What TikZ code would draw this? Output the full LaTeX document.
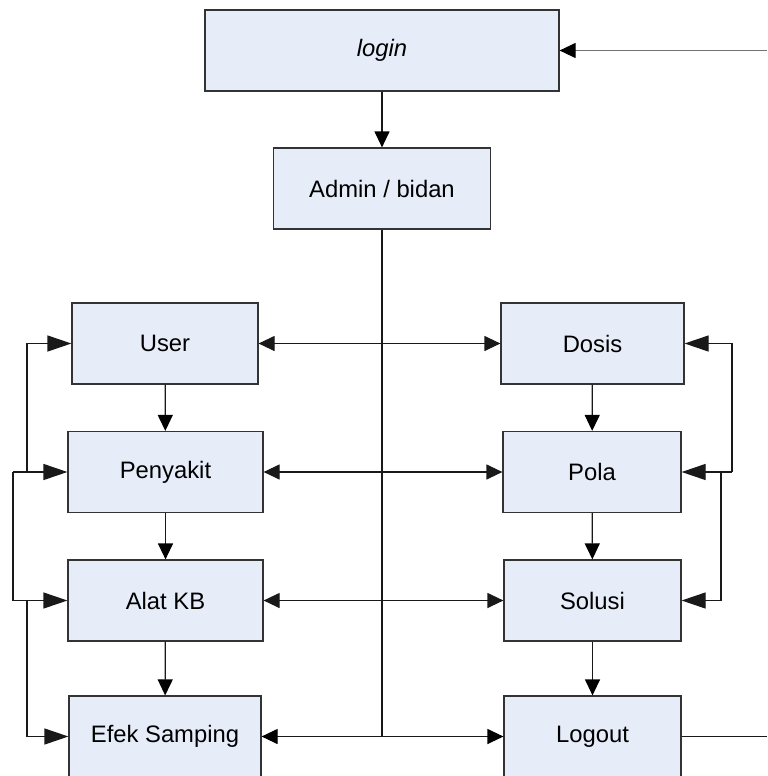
\documentclass[tikz,border=0pt]{standalone}
\usepackage{fontspec}
\setmainfont{Liberation Sans}
\usetikzlibrary{arrows.meta}
\definecolor{boxfill}{RGB}{230,237,248}

\begin{document}
\begin{tikzpicture}[x=0.5pt, y=-0.5pt,
        box/.style={draw=black!80, fill=boxfill, line width=0.6pt, minimum height=40.5pt,
            inner sep=0pt, font=\fontsize{11.9}{14}\selectfont},
        link/.style={draw=black!90, line width=0.6pt},
        arr/.style={link, -{Triangle[length=8pt, width=7.5pt, black]}},
        barr/.style={link, {Triangle[length=8pt, width=7.5pt]}-{Triangle[length=8pt, width=7.5pt]}},
        fbarr/.style={link, -{Triangle[length=12pt, width=8pt]}}]
        \useasboundingbox (0,0) rectangle (767,776);

        \node[box, minimum width=177pt] (login) at (382,50.5) {\textit{login}};
        \node[box, minimum width=108.5pt] (admin) at (382,188.5) {Admin / bidan};

        \node[box, minimum width=93pt] (user) at (165,343.5) {User};
        \node[box, minimum width=97.5pt] (penyakit) at (165.5,472) {Penyakit};
        \node[box, minimum width=97.5pt] (alatkb) at (165.5,600.5) {Alat KB};
        \node[box, minimum width=96pt] (efek) at (165,736.5) {Efek Samping};

        \node[box, minimum width=91.5pt] (dosis) at (592.5,343.5) {Dosis};
        \node[box, minimum width=89pt] (pola) at (592,472) {Pola};
        \node[box, minimum width=88.5pt] (solusi) at (592.5,600.5) {Solusi};
        \node[box, minimum width=88.5pt] (logout) at (592.5,736.5) {Logout};

        \coordinate (trunk) at (382,736.5);
        \coordinate (lin) at (27,472);
        \coordinate (lout) at (13,472);
        \coordinate (lbot) at (27,600.5);
        \coordinate (rout) at (732,472);
        \coordinate (rin) at (721,472);
        \coordinate (back) at (767,50.5);
        \coordinate (away) at (767,736.5);

        \draw[arr] (login) -- (admin);
        \draw[link] (admin.south) -- (trunk);
        \draw[barr] (user) -- (dosis);
        \draw[barr] (penyakit) -- (pola);
        \draw[barr] (alatkb) -- (solusi);
        \draw[arr] (trunk) -- (efek);
        \draw[arr] (trunk) -- (logout);

        \draw[arr] (user) -- (penyakit);
        \draw[arr] (penyakit) -- (alatkb);
        \draw[arr] (alatkb) -- (efek);
        \draw[arr] (dosis) -- (pola);
        \draw[arr] (pola) -- (solusi);
        \draw[arr] (solusi) -- (logout);

        \draw[fbarr] (lin) |- (user.west);
        \draw[fbarr] (lout) -- (penyakit.west);
        \draw[fbarr] (lout) |- (alatkb.west);
        \draw[fbarr] (lbot) |- (efek.west);
        \draw[fbarr] (rout) |- (dosis.east);
        \draw[fbarr] (rout) -- (pola.east);
        \draw[fbarr] (rin) |- (solusi.east);

        \draw[arr, draw=black!55] (back) -- (login);
        \draw[link] (logout) -- (away);
\end{tikzpicture}
\end{document}
